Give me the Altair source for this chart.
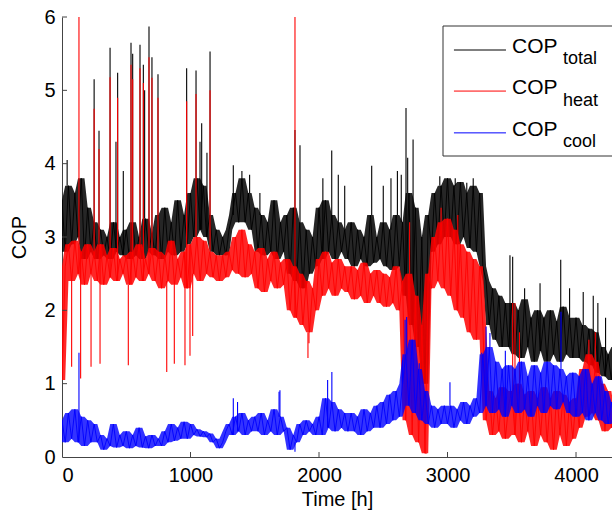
import altair as alt
import pandas as pd

STEP = 25  # hours between base samples

# ---- COP_total (black): base band, one value every 25 h from t=0 ----
total_base = [
    3.5, 2.8, 3.7, 2.9, 3.6, 3.0, 3.8, 2.7, 3.4, 2.8,
    3.2, 2.7, 3.1, 2.75, 3.0, 2.7, 3.2, 2.8, 3.0, 2.75,
    3.1, 2.7, 3.2, 2.75, 3.0, 2.7, 3.25, 2.8, 3.05, 2.75,
    3.3, 2.7, 3.4, 2.8, 3.2, 2.75, 3.5, 2.8, 3.3, 2.9,
    3.6, 3.0, 3.8, 3.1, 3.7, 3.0, 3.3, 2.8, 3.1, 2.75,
    3.0, 2.75, 3.1, 3.3, 3.6, 3.2, 3.8, 3.2, 3.6, 3.1,
    3.4, 2.8, 3.3, 2.75, 3.2, 2.8, 3.5, 2.7, 3.2, 2.8,
    3.3, 2.5, 3.4, 2.4, 3.2, 2.3, 3.1, 2.5, 3.0, 2.6,
    3.4, 2.7, 3.5, 2.8, 3.3, 2.7, 3.2, 2.8, 3.1, 2.7,
    3.2, 2.6, 3.1, 2.7, 3.0, 2.6, 3.3, 2.65, 3.0, 2.7,
    3.2, 2.6, 3.1, 2.55, 3.3, 2.6, 3.2, 2.2, 3.6, 1.8,
    3.4, 1.5, 3.0, 1.0, 3.3, 2.8, 3.6, 2.9, 3.7, 3.0,
    3.8, 3.0, 3.7, 2.9, 3.75, 3.0, 3.6, 2.85, 3.7, 2.8,
    3.6, 2.6, 2.4, 1.8, 2.3, 1.6, 2.2, 1.5, 2.1, 1.5,
    2.1, 1.4, 2.0, 1.35, 2.15, 1.5, 1.9, 1.3, 2.0, 1.45,
    1.9, 1.3, 2.0, 1.4, 1.85, 1.3, 2.05, 1.4, 1.9, 1.35,
    1.9, 1.35, 1.8, 1.3, 1.75, 1.25, 1.7, 1.15, 1.5, 1.1,
    1.4, 1.05, 1.5,
]
total_peak_t = [40, 250, 288, 374, 420, 433, 477, 537, 550, 607, 633, 643, 677, 700,
                747, 970, 1043, 1074, 1087, 1128, 1152, 1333, 1400, 1460, 1540, 1813,
                1852, 2030, 2099, 2150, 2200, 2410, 2500, 2560, 2610, 2640, 2677, 2690,
                2732, 2940, 3060, 3150, 3200, 3486, 3507, 3600, 3720, 3881, 3950, 4056,
                4134, 4170, 4230]
total_peak_v = [4.05, 5.15, 4.45, 5.58, 4.3, 5.24, 3.9, 5.65, 5.5, 5.62, 5.35, 5.0, 5.87, 5.45,
                5.22, 5.3, 5.27, 4.3, 4.55, 4.15, 5.53, 3.98, 3.9, 3.85, 3.6, 4.46,
                4.25, 3.8, 4.18, 3.85, 3.7, 3.97, 3.7, 3.8, 3.9, 3.85, 4.76, 4.08,
                4.33, 3.83, 3.8, 3.74, 3.8, 2.75, 2.73, 2.3, 2.37, 2.69, 2.3, 2.25,
                2.2, 2.1, 1.9]

# ---- COP_heat (red) ----
heat_base = [
    1.05, 2.6, 2.9, 2.4, 2.95, 2.5, 2.8, 2.35, 2.9, 2.5,
    2.8, 2.4, 2.9, 2.35, 2.75, 2.45, 2.85, 2.4, 2.7, 2.5,
    2.75, 2.35, 2.8, 2.45, 2.9, 2.4, 2.7, 2.5, 2.85, 2.4,
    2.8, 2.3, 2.75, 2.4, 2.95, 2.35, 2.7, 2.45, 2.8, 2.3,
    2.9, 2.5, 3.0, 2.4, 2.95, 2.5, 2.8, 2.45, 2.75, 2.4,
    2.75, 2.45, 2.8, 2.55, 3.0, 2.5, 3.1, 2.45, 2.9, 2.5,
    2.8, 2.3, 2.85, 2.25, 2.7, 2.4, 2.8, 2.3, 2.65, 2.35,
    2.7, 2.0, 2.6, 1.9, 2.5, 1.8, 2.4, 1.7, 2.3, 2.0,
    2.7, 2.2, 2.8, 2.3, 2.65, 2.2, 2.7, 2.3, 2.6, 2.25,
    2.6, 2.15, 2.55, 2.2, 2.65, 2.1, 2.5, 2.2, 2.55, 2.1,
    2.5, 2.05, 2.45, 2.1, 2.6, 2.0, 2.4, 0.5, 2.5, 0.3,
    2.2, 0.2, 1.8, 0.05, 2.5, 2.3, 3.0, 2.4, 3.2, 2.3,
    3.25, 2.2, 3.1, 2.0, 2.9, 1.9, 2.8, 1.7, 2.7, 1.6,
    2.6, 1.8, 0.5, 0.9, 0.3, 0.8, 0.35, 0.95, 0.25, 0.7,
    0.9, 0.3, 1.0, 0.2, 0.85, 0.35, 0.9, 0.15, 0.8, 0.3,
    0.95, 0.2, 0.8, 0.1, 0.9, 0.3, 0.85, 0.15, 0.75, 0.25,
    0.8, 0.4, 1.2, 0.55, 1.4, 0.6, 1.3, 0.5, 1.0, 0.35,
    0.9, 0.4, 0.6,
]
heat_peak_t = [75, 132, 145, 226, 250, 288, 296, 374, 433, 516, 537, 550, 607, 633,
               677, 700, 747, 815, 874, 957, 970, 996, 1017, 1043, 1152, 1813, 1914,
               1922, 2705, 2833, 2950, 3080, 3507, 3525, 3560, 4100, 4150]
heat_peak_v = [1.23, 6.0, 1.07, 1.23, 4.75, 4.2, 1.27, 5.18, 4.9, 1.25, 5.35, 5.15, 5.3, 5.1,
               5.45, 5.17, 4.9, 1.16, 1.27, 1.25, 4.85, 1.38, 1.65, 4.95, 5.0, 6.0, 1.35,
               1.55, 3.2, 0.04, 3.4, 3.3, 2.1, 2.1, 1.7, 1.6, 1.7]

# ---- COP_cool (blue) ----
cool_base = [
    0.5, 0.2, 0.6, 0.25, 0.65, 0.2, 0.55, 0.15, 0.5, 0.2,
    0.45, 0.2, 0.3, 0.1, 0.25, 0.15, 0.45, 0.13, 0.3, 0.15,
    0.35, 0.12, 0.3, 0.15, 0.4, 0.13, 0.28, 0.12, 0.3, 0.15,
    0.25, 0.15, 0.35, 0.2, 0.45, 0.22, 0.4, 0.25, 0.48, 0.25,
    0.45, 0.3, 0.38, 0.28, 0.35, 0.27, 0.32, 0.2, 0.25, 0.12,
    0.2, 0.35, 0.45, 0.3, 0.55, 0.35, 0.6, 0.3, 0.5, 0.35,
    0.55, 0.35, 0.6, 0.3, 0.5, 0.35, 0.65, 0.3, 0.55, 0.35,
    0.4, 0.1, 0.3, 0.2, 0.45, 0.3, 0.5, 0.35, 0.45, 0.3,
    0.55, 0.3, 0.8, 0.4, 0.75, 0.35, 0.65, 0.4, 0.6, 0.35,
    0.6, 0.35, 0.55, 0.3, 0.65, 0.35, 0.6, 0.4, 0.7, 0.4,
    0.75, 0.45, 0.85, 0.5, 0.9, 0.55, 1.0, 1.4, 0.7, 1.6,
    0.6, 1.2, 0.5, 0.9, 0.45, 0.7, 0.4, 0.65, 0.45, 0.7,
    0.45, 0.7, 0.4, 0.65, 0.5, 0.75, 0.45, 0.7, 0.55, 0.8,
    0.6, 1.4, 0.7, 1.5, 0.6, 1.3, 0.65, 1.2, 0.55, 1.25,
    0.7, 1.2, 0.6, 1.3, 0.65, 1.1, 0.55, 1.25, 0.7, 1.15,
    0.6, 1.3, 0.7, 1.25, 0.65, 1.2, 0.75, 1.1, 0.6, 1.15,
    0.55, 1.1, 0.6, 1.2, 0.5, 1.0, 0.6, 1.1, 0.5, 0.9,
    0.45, 0.75, 0.5,
]
cool_peak_t = [132, 1333, 1366, 1689, 1696, 1813, 2067, 2100, 2650, 2670, 2682, 2780,
               3019, 3266, 3300, 3330, 3450, 3883]
cool_peak_v = [1.42, 0.8, 0.75, 0.89, 0.91, 0.07, 1.05, 1.16, 1.32, 1.87, 1.91, 1.28,
               1.02, 1.42, 1.78, 1.69, 1.45, 1.98]

x_ticks = [0, 1000, 2000, 3000, 4000]
y_ticks = [0, 1, 2, 3, 4, 5, 6]
X_MAX = 4280

legend_labels = ["COP", "COP", "COP"]
legend_subs = ["total", "heat", "cool"]
legend_colors = ["#000000", "#ff0000", "#0000ff"]

FONT = "Liberation Sans"
x_scale = alt.Scale(domain=[0, X_MAX], nice=False, zero=False)
y_scale = alt.Scale(domain=[0, 6], nice=False)
x_axis = alt.Axis(values=x_ticks, title="Time [h]", grid=False, tickSize=0, format="d",
                  labelPadding=8, titlePadding=4, domainColor="#444",
                  labelFont=FONT, labelFontSize=20, labelColor="black",
                  titleFont=FONT, titleFontSize=20, titleFontWeight="normal",
                  titleColor="black")
y_axis = alt.Axis(values=y_ticks, title="COP", grid=False, tickSize=0,
                  labelPadding=7, titlePadding=14, domainColor="#444",
                  labelFont=FONT, labelFontSize=20, labelColor="black",
                  titleFont=FONT, titleFontSize=20, titleFontWeight="normal",
                  titleColor="black")


def X(field):
    return alt.X(field, scale=x_scale, axis=x_axis)


def Y(field):
    return alt.Y(field, scale=y_scale, axis=y_axis)


def base_frame(base):
    t = [i * STEP for i in range(len(base))]
    lo = [min(base[max(0, i - 1):i + 2]) for i in range(len(base))]
    hi = [max(base[max(0, i - 1):i + 2]) for i in range(len(base))]
    return pd.DataFrame({"t": t, "v": base, "lo": lo, "hi": hi})


def spike_frame(base, pt, pv):
    frm = [base[min(len(base) - 1, int(round(t / STEP)))] for t in pt]
    return pd.DataFrame({"t": pt, "v": pv, "f": frm})


def series_layers(base, pt, pv, color, area_op):
    bf = base_frame(base)
    sf = spike_frame(base, pt, pv)
    area = alt.Chart(bf).mark_area(color=color, opacity=area_op, clip=True).encode(
        x=X("t:Q"), y=Y("lo:Q"), y2="hi:Q")
    line = alt.Chart(bf).mark_line(color=color, strokeWidth=0.9, clip=True).encode(
        x=X("t:Q"), y=Y("v:Q"), order="t:Q")
    spk = alt.Chart(sf).mark_rule(color=color, strokeWidth=1.1, clip=True).encode(
        x=X("t:Q"), y=Y("f:Q"), y2="v:Q")
    return [area, line, spk]


layers = []
layers += series_layers(total_base, total_peak_t, total_peak_v, "#000000", 0.85)
layers += series_layers(heat_base, heat_peak_t, heat_peak_v, "#ff0000", 0.85)
layers += series_layers(cool_base, cool_peak_t, cool_peak_v, "#0000ff", 0.8)

# inward ticks (MATLAB style)
xt = alt.Chart(pd.DataFrame({"t": x_ticks[1:]})).mark_rule(color="#444", strokeWidth=1).encode(
    x=X("t:Q"), y=alt.value(440), y2=alt.value(435))
yt = alt.Chart(pd.DataFrame({"v": y_ticks[1:]})).mark_rule(color="#444", strokeWidth=1).encode(
    y=Y("v:Q"), x=alt.value(0), x2=alt.value(5))

# legend box
box = alt.Chart(pd.DataFrame({"a": [0]})).mark_rect(
    fill="white", stroke="#333", strokeWidth=1).encode(
    x=alt.value(381), x2=alt.value(552), y=alt.value(9), y2=alt.value(139))

# legend sample lines: two end points each, in data coordinates
leg_y = [5.55, 4.99, 4.42]
leg_pts = pd.DataFrame({
    "t": [3050, 3455] * 3,
    "y": [leg_y[0]] * 2 + [leg_y[1]] * 2 + [leg_y[2]] * 2,
    "s": ["total"] * 2 + ["heat"] * 2 + ["cool"] * 2,
})
leg_lines = alt.Chart(leg_pts).mark_line(strokeWidth=1).encode(
    x=X("t:Q"), y=Y("y:Q"), detail="s:N",
    color=alt.Color("s:N", scale=alt.Scale(domain=legend_subs, range=legend_colors),
                    legend=None))

leg_df = pd.DataFrame({
    "lab": legend_labels, "sub": legend_subs,
    "ty": [35.5, 77, 118.5], "sy": [47, 89, 130],
})
leg_parts = []
for i in range(3):
    row = leg_df.iloc[[i]]
    leg_parts.append(alt.Chart(row).mark_text(
        align="left", baseline="alphabetic", fontSize=21, font=FONT,
        color="black").encode(
        text="lab:N", x=alt.value(450), y=alt.value(float(row["ty"].iloc[0]))))
    leg_parts.append(alt.Chart(row).mark_text(
        align="left", baseline="alphabetic", fontSize=18, font=FONT,
        color="black").encode(
        text="sub:N", x=alt.value(501), y=alt.value(float(row["sy"].iloc[0]))))

chart = alt.layer(*layers, xt, yt, box, leg_lines, *leg_parts).properties(
    width=550, height=440,
    background="white",
    autosize=alt.AutoSizeParams(type="none"),
    padding={"left": 62, "top": 17, "right": 0, "bottom": 59},
).configure_view(strokeWidth=0)

chart.save("out.html", embed_options={"renderer": "svg", "actions": False})
